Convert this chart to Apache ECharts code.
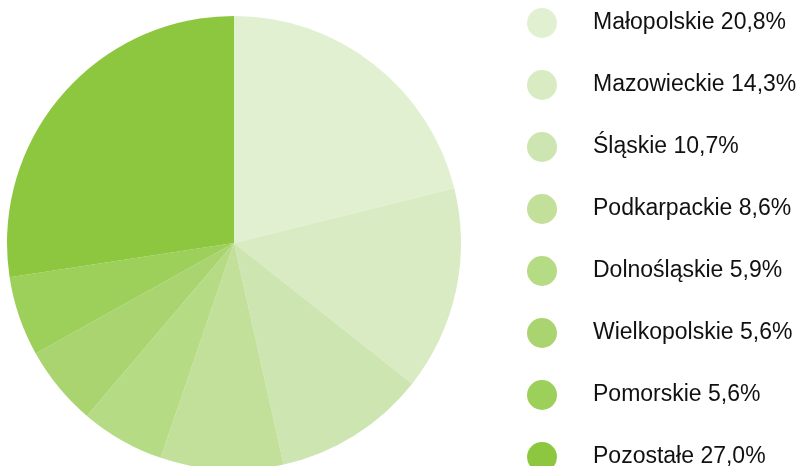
<!DOCTYPE html>
<html>
<head>
<meta charset="utf-8">
<script src="https://cdn.jsdelivr.net/npm/echarts@6/dist/echarts.min.js"></script>
<style>
  html, body { margin: 0; padding: 0; background: #fff; }
  #chart { width: 805px; height: 466px; }
</style>
</head>
<body>
<div id="chart"></div>
<script>
  var regions = ['Małopolskie', 'Mazowieckie', 'Śląskie', 'Podkarpackie', 'Dolnośląskie', 'Wielkopolskie', 'Pomorskie', 'Pozostałe'];
  var shares = [20.8, 14.3, 10.7, 8.6, 5.9, 5.6, 5.6, 27.0];
  var colors = ['#e2f0d2', '#d9ebc2', '#cde5b0', '#c2e09a', '#b6db85', '#aad46f', '#9dcf5b', '#8dc63f'];

  function fmt(v) {
    return v.toFixed(1).replace('.', ',') + '%';
  }

  var chart = echarts.init(document.getElementById('chart'));

  chart.setOption({
    animation: false,
    color: colors,
    legend: {
      orient: 'vertical',
      left: 527,
      top: 8,
      height: 600,
      padding: 0,
      icon: 'circle',
      itemWidth: 30,
      itemHeight: 30,
      itemGap: 32,
      selectedMode: false,
      textStyle: {
        fontFamily: 'Liberation Sans, Arial, sans-serif',
        fontSize: 23,
        color: '#111',
        padding: [0, 0, 0, 31]
      },
      formatter: function (name) {
        var i = regions.indexOf(name);
        return name + ' ' + fmt(shares[i]);
      },
      data: regions
    },
    series: [
      {
        type: 'pie',
        center: [234, 243],
        radius: [0, 227],
        startAngle: 90,
        clockwise: true,
        label: { show: false },
        labelLine: { show: false },
        emphasis: { disabled: true },
        itemStyle: { borderWidth: 0 },
        data: regions.map(function (r, i) {
          return { name: r, value: shares[i] };
        })
      }
    ]
  });
</script>
</body>
</html>
